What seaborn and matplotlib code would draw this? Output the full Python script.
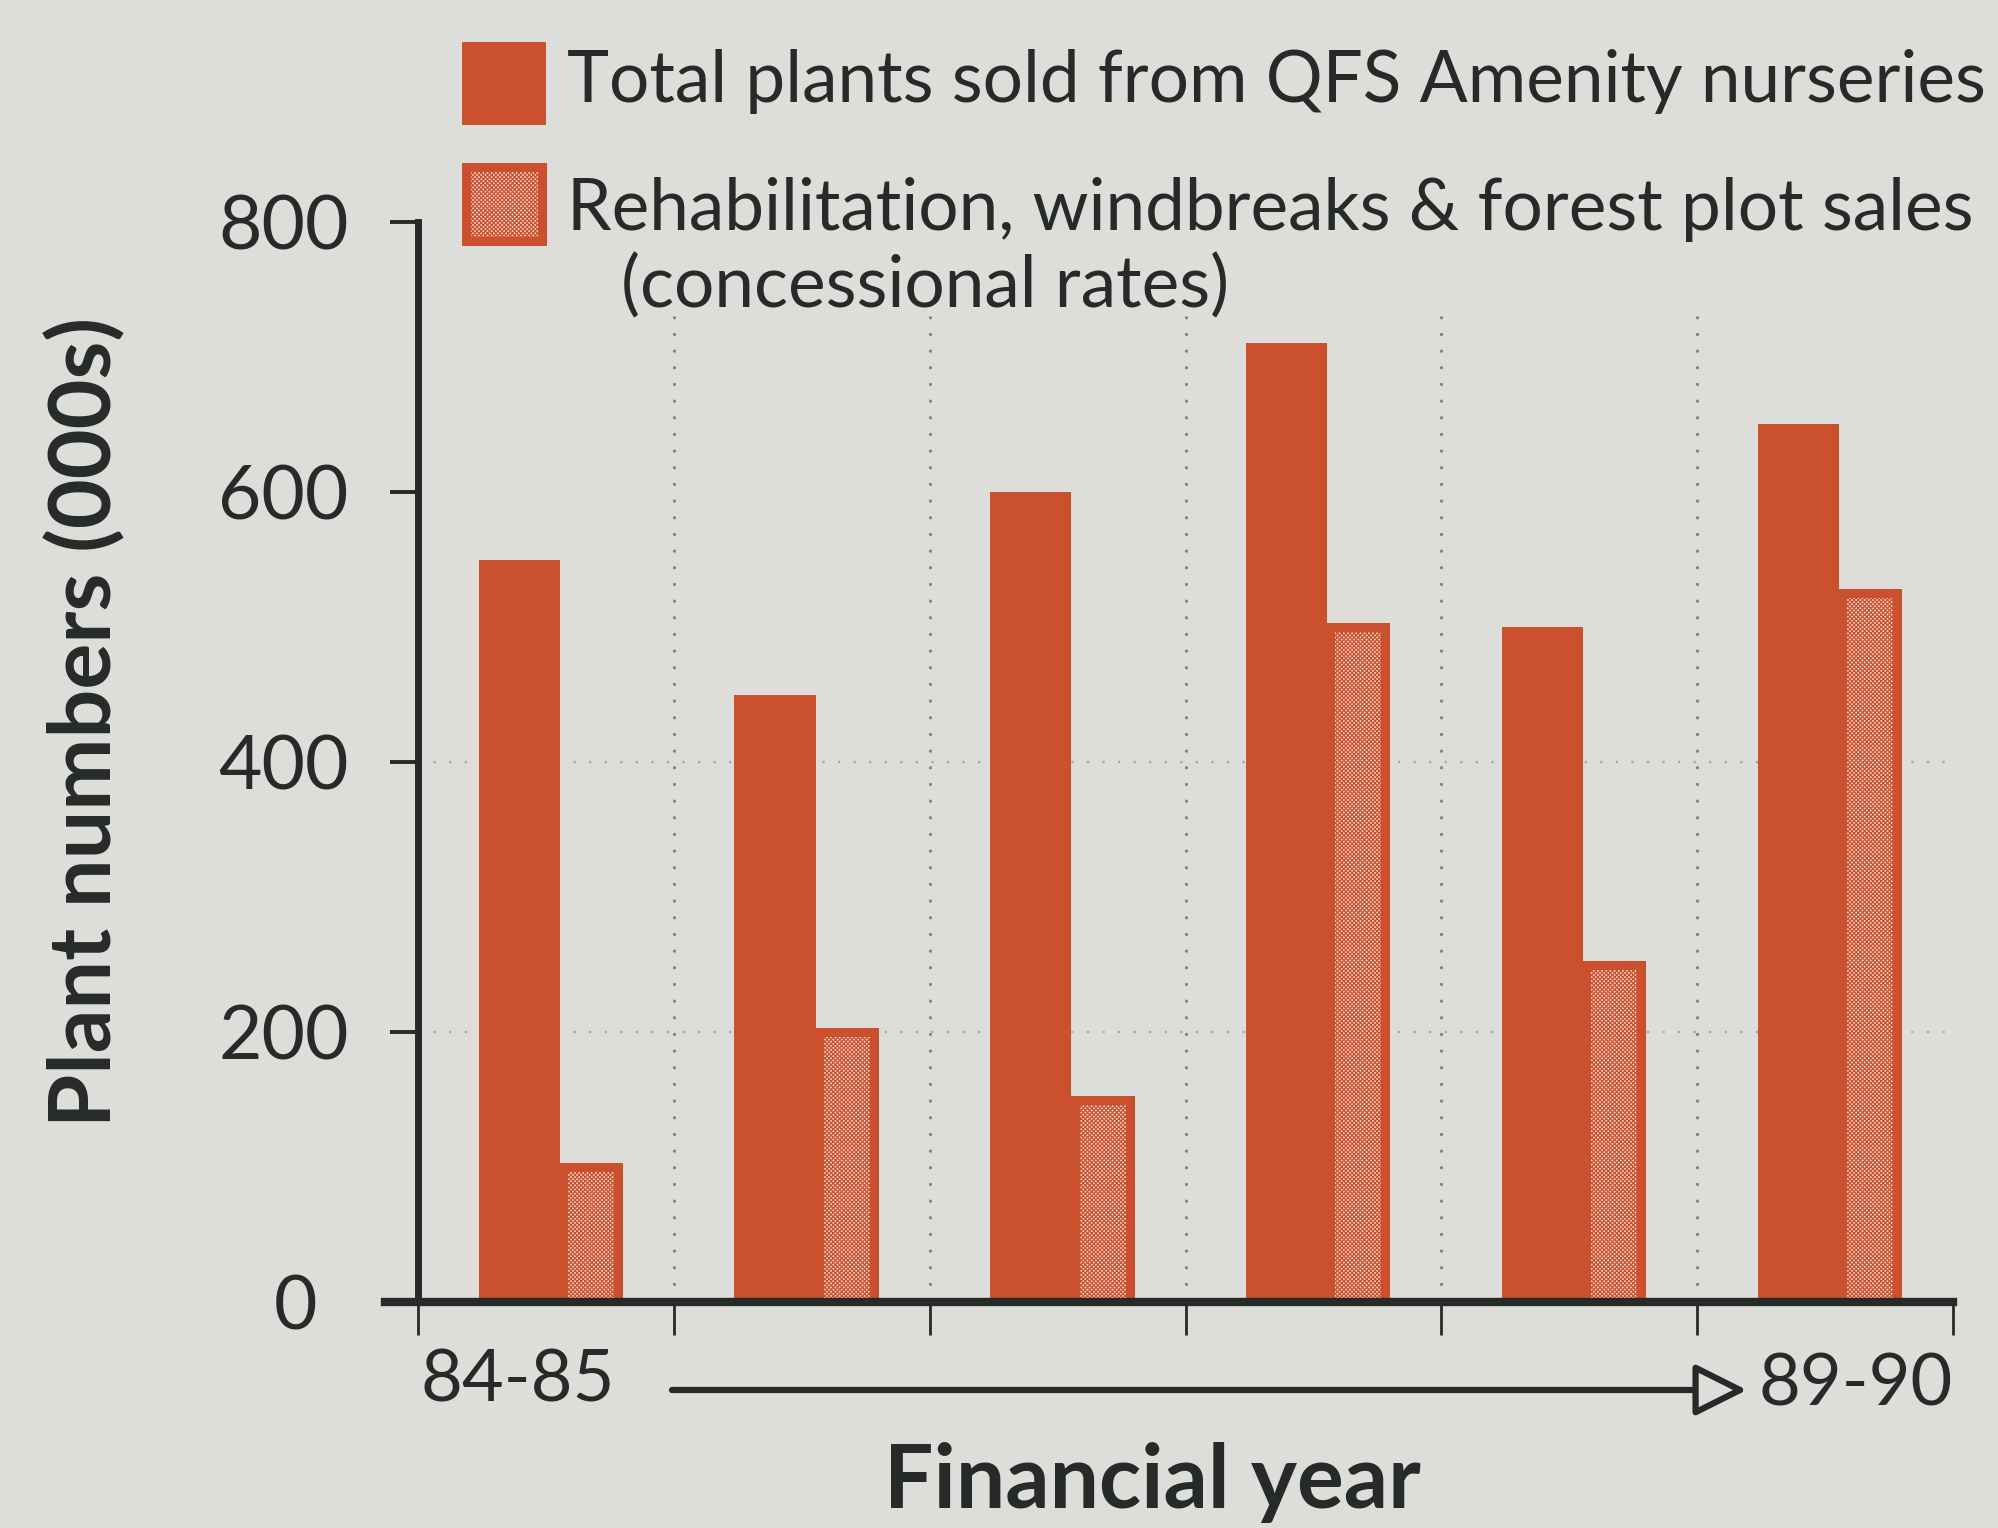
import numpy as np
import pandas as pd
import matplotlib
matplotlib.use("Agg")
import matplotlib.pyplot as plt
from matplotlib.patches import Rectangle, FancyArrowPatch
from matplotlib.transforms import ScaledTranslation
import seaborn as sns

# Plant sales per financial year (thousands of plants)
years = ["84-85", "85-86", "86-87", "87-88", "88-89", "89-90"]
total_sold = [550, 450, 600, 710, 500, 650]
concessional = [100, 200, 150, 500, 250, 525]
y_ticks = [0, 200, 400, 600, 800]
legend_labels = [
    "Total plants sold from QFS Amenity nurseries",
    "Rehabilitation, windbreaks & forest plot sales",
    "(concessional rates)",
]

BG = "#dddeda"
RED = "#cb502d"
PINK = "#f3d6cc"
INK = "#262b29"
DOT = "#7e807c"
HATCH = "x" * 8

sns.set_theme(style="white")
plt.rcParams["font.family"] = ["Lato", "DejaVu Sans"]
plt.rcParams["hatch.linewidth"] = 0.85
plt.rcParams["text.color"] = INK

W, H = 1999, 1528
fig = plt.figure(figsize=(W / 100, H / 100), dpi=100, facecolor=BG)


def fx(px):
    return px / W


def fy(py):
    return 1 - py / H


ax = fig.add_axes([fx(418), fy(1302), fx(1953) - fx(418), fy(222) - fy(1302)])
ax.set_facecolor(BG)

df = pd.DataFrame({"year": years, "total": total_sold, "conc": concessional})

# solid bars: all plants sold
n0 = len(ax.patches)
sns.barplot(data=df, x="year", y="total", order=years, color=RED, width=0.317,
            saturation=1, linewidth=0, errorbar=None, ax=ax, zorder=3)
for p in ax.patches[n0:]:
    p.set_x(p.get_x() - 0.1045)

# hatched bars: concessional-rate sales
n1 = len(ax.patches)
sns.barplot(data=df, x="year", y="conc", order=years, color=PINK, width=0.215,
            saturation=1, edgecolor=RED, linewidth=6.5, hatch=HATCH,
            errorbar=None, ax=ax, zorder=4)
for p in ax.patches[n1:]:
    p.set_x(p.get_x() + 0.174)

ax.set_xlim(-0.5, 5.5)
ax.set_ylim(0, 800)
ax.set_xlabel("")
ax.set_ylabel("")
ax.set_xticks(np.arange(-0.5, 6, 1))
ax.set_xticklabels([])
ax.set_yticks(y_ticks)
ax.set_yticklabels([str(v) for v in y_ticks])

for s in ["top", "right"]:
    ax.spines[s].set_visible(False)
ax.spines["left"].set_linewidth(5)
ax.spines["left"].set_color(INK)
ax.spines["left"].set_zorder(5)
ax.spines["bottom"].set_linewidth(6)
ax.spines["bottom"].set_color(INK)
ax.spines["bottom"].set_bounds(-0.629, 5.5)
ax.spines["bottom"].set_zorder(5)

ax.tick_params(axis="y", left=True, direction="out", length=20, width=2.8,
               color=INK, pad=30, labelsize=54, labelcolor=INK)
ax.tick_params(axis="x", bottom=True, direction="out", length=24, width=2,
               color=INK)

# nudge the zero label left of the extended baseline
zero_lbl = ax.get_yticklabels()[0]
zero_lbl.set_transform(zero_lbl.get_transform()
                       + ScaledTranslation(-0.31, 0, fig.dpi_scale_trans))

# dotted guides
for b in np.arange(0.5, 5, 1):
    ax.plot([b, b], [0, 730], color=DOT, lw=2.0, ls=(0, (1, 5)), zorder=1)
for v in (200, 400):
    ax.axhline(v, color=DOT, lw=1.6, ls=(0, (1, 6)), zorder=1, alpha=0.6)

# axis titles
fig.text(fx(86), fy(722), "Plant numbers (000s)", rotation=90, ha="center",
         va="center", fontsize=62, fontweight="bold")
fig.text(fx(1152), fy(1508), "Financial year", ha="center", va="baseline",
         fontsize=63, fontweight="bold")

# first / last year with direction arrow
fig.text(fx(421), fy(1402), years[0], ha="left", va="baseline", fontsize=52)
fig.text(fx(1953), fy(1406), years[-1], ha="right", va="baseline", fontsize=52)
arrow = FancyArrowPatch((fx(672), fy(1390)), (fx(1747), fy(1390)),
                        transform=fig.transFigure,
                        arrowstyle="-|>,head_length=1.6,head_width=0.8",
                        mutation_scale=20, lw=4.5, edgecolor=INK, facecolor=BG,
                        shrinkA=0, shrinkB=0)
fig.add_artist(arrow)

# legend
fig.add_artist(Rectangle((fx(462), fy(125)), fx(546) - fx(462), fy(42) - fy(125),
                         transform=fig.transFigure, facecolor=RED, edgecolor="none"))
fig.add_artist(Rectangle((fx(466.5), fy(240.5)), fx(541.5) - fx(466.5),
                         fy(167.5) - fy(240.5), transform=fig.transFigure,
                         facecolor=PINK, edgecolor=RED, lw=6.5, hatch=HATCH))
fig.text(fx(567), fy(102), legend_labels[0], ha="left", va="baseline", fontsize=51.2)
fig.text(fx(567), fy(230), legend_labels[1], ha="left", va="baseline", fontsize=51.2)
fig.text(fx(621), fy(307), legend_labels[2], ha="left", va="baseline", fontsize=51.2)

fig.savefig("out.png", dpi=100, facecolor=BG)
